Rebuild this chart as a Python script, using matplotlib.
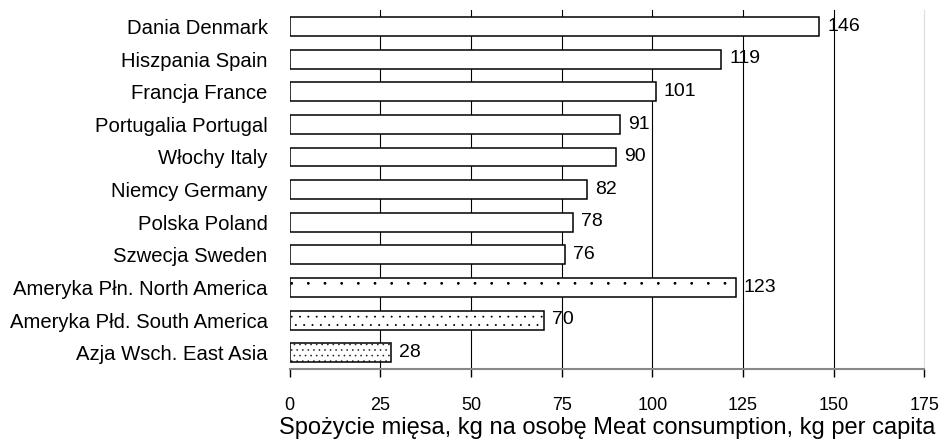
import matplotlib.pyplot as plt
import matplotlib.hatch as mhatch

plt.rcParams["font.family"] = ["Liberation Sans", "DejaVu Sans"]
plt.rcParams["hatch.linewidth"] = 0.8
# smaller dots for the dotted fills
mhatch.SmallFilledCircles.size = 0.05

# Data
countries = [
    "Dania Denmark",
    "Hiszpania Spain",
    "Francja France",
    "Portugalia Portugal",
    "Włochy Italy",
    "Niemcy Germany",
    "Polska Poland",
    "Szwecja Sweden",
    "Ameryka Płn. North America",
    "Ameryka Płd. South America",
    "Azja Wsch. East Asia",
]
consumption = [146, 119, 101, 91, 90, 82, 78, 76, 123, 70, 28]
hatches = ["", "", "", "", "", "", "", "", ".", "..", "..."]
x_ticks = [0, 25, 50, 75, 100, 125, 150, 175]

fig = plt.figure(figsize=(9.44, 4.42), dpi=100)
ax = fig.add_axes([0.307, 0.165, 0.672, 0.812])

ypos = list(range(len(countries)))
bars = ax.barh(ypos, consumption, height=0.58, color="white",
               edgecolor="black", linewidth=1.1, zorder=3)
for b, h in zip(bars, hatches):
    b.set_hatch(h)

for y, v in zip(ypos, consumption):
    ax.text(v + 2.2, y - 0.01, str(v), va="center", ha="left", fontsize=14, zorder=4)

ax.set_ylim(len(countries) - 0.5, -0.5)
ax.set_xlim(0, 175)
ax.set_yticks(ypos)
ax.set_yticklabels(countries, fontsize=14.6)
ax.tick_params(axis="y", length=0, pad=16)
ax.set_xticks(x_ticks)
ax.tick_params(axis="x", direction="out", length=6, width=1, labelsize=13, pad=14)

for t in x_ticks[1:-1]:
    ax.axvline(t, color="black", linewidth=0.8, zorder=1)

for s in ["left", "top"]:
    ax.spines[s].set_visible(False)
ax.spines["right"].set_color("#dddddd")
ax.spines["bottom"].set_color("#888888")
ax.spines["bottom"].set_linewidth(1.5)

ax.set_xlabel("Spożycie mięsa, kg na osobę Meat consumption, kg per capita",
              fontsize=17, labelpad=2)

fig.savefig("out.png", dpi=100)
